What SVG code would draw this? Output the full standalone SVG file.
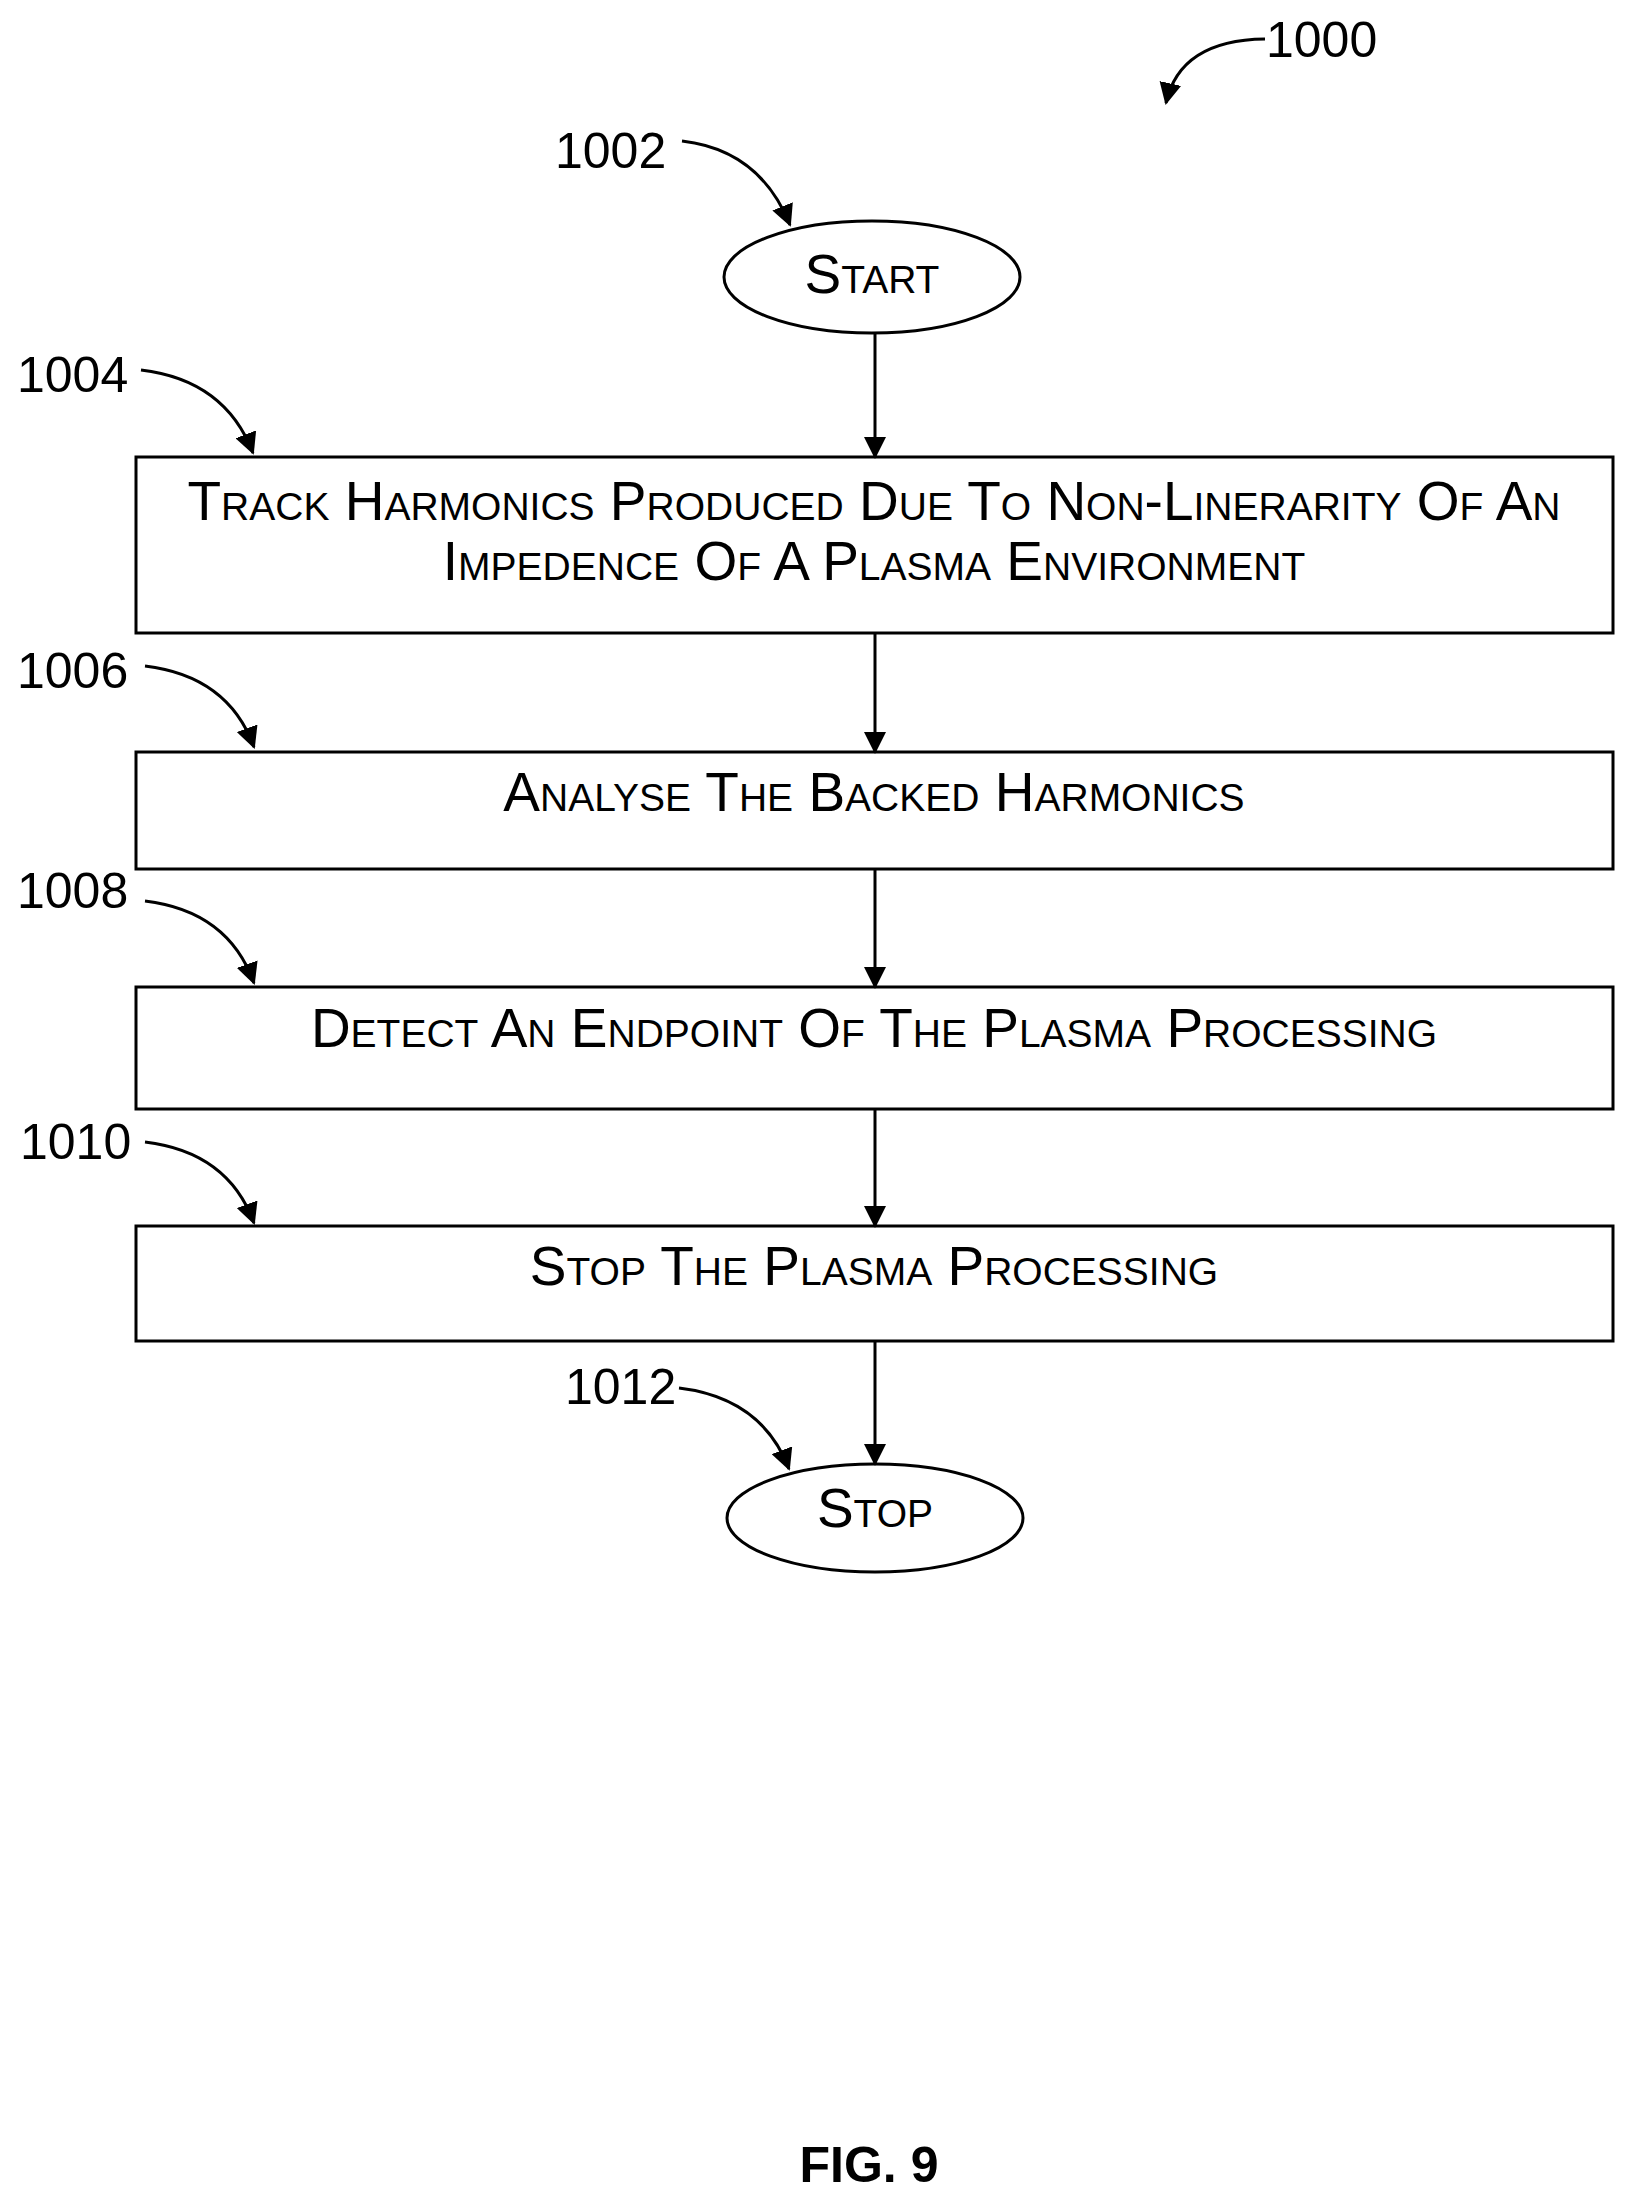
<svg xmlns="http://www.w3.org/2000/svg" width="1635" height="2205" viewBox="0 0 1635 2205">
<style>
.n{fill:#fff;stroke:#000;stroke-width:3}
.t{font-family:"Liberation Sans",Arial,sans-serif;font-size:55px;font-variant:small-caps;text-anchor:middle;fill:#000}
.l{font-family:"Liberation Sans",Arial,sans-serif;font-size:50px;fill:#000}
.c{fill:none;stroke:#000;stroke-width:3}
</style>
<defs><marker id="b" markerWidth="22" markerHeight="22" refX="20" refY="11" orient="auto" markerUnits="userSpaceOnUse" viewBox="0 0 22 22"><path d="M0,0 L22,11 L0,22 z" fill="#000"/></marker></defs>
<rect width="1635" height="2205" fill="#fff"/>
<g id="start"><ellipse class="n" cx="872" cy="277" rx="148" ry="56"/><text class="t" x="872" y="293">Start</text></g>
<g id="n1004"><rect class="n" x="136" y="457" width="1477" height="176"/><text class="t" x="874" y="520">Track Harmonics Produced Due To Non-Linerarity Of An</text><text class="t" x="874" y="580">Impedence Of A Plasma Environment</text></g>
<g id="n1006"><rect class="n" x="136" y="752" width="1477" height="117"/><text class="t" x="874" y="811">Analyse The Backed Harmonics</text></g>
<g id="n1008"><rect class="n" x="136" y="987" width="1477" height="122"/><text class="t" x="874" y="1047">Detect An Endpoint Of The Plasma Processing</text></g>
<g id="n1010"><rect class="n" x="136" y="1226" width="1477" height="115"/><text class="t" x="874" y="1285">Stop The Plasma Processing</text></g>
<g id="stop"><ellipse class="n" cx="875" cy="1518" rx="148" ry="54"/><text class="t" x="875" y="1527">Stop</text></g>
<g id="connectors">
<line class="c" x1="875" y1="333" x2="875" y2="457" marker-end="url(#b)"/>
<line class="c" x1="875" y1="633" x2="875" y2="752" marker-end="url(#b)"/>
<line class="c" x1="875" y1="869" x2="875" y2="987" marker-end="url(#b)"/>
<line class="c" x1="875" y1="1109" x2="875" y2="1226" marker-end="url(#b)"/>
<line class="c" x1="875" y1="1341" x2="875" y2="1464" marker-end="url(#b)"/>
</g>
<g id="labels">
<text class="l" x="1266" y="57">1000</text>
<path class="c" d="M1265,39 Q1180,40 1166,103" marker-end="url(#b)"/>
<text class="l" x="555" y="168">1002</text>
<path class="c" d="M682,141 Q760,150 790,225" marker-end="url(#b)"/>
<text class="l" x="17" y="392">1004</text>
<path class="c" d="M141,370 Q225,380 253,453" marker-end="url(#b)"/>
<text class="l" x="17" y="688">1006</text>
<path class="c" d="M145,666 Q228,676 254,747" marker-end="url(#b)"/>
<text class="l" x="17" y="908">1008</text>
<path class="c" d="M145,901 Q228,911 254,983" marker-end="url(#b)"/>
<text class="l" x="20" y="1159">1010</text>
<path class="c" d="M145,1142 Q228,1152 254,1223" marker-end="url(#b)"/>
<text class="l" x="565" y="1404">1012</text>
<path class="c" d="M679,1388 Q762,1398 789,1469" marker-end="url(#b)"/>
<text class="l" x="869" y="2182" style="font-weight:bold;text-anchor:middle">FIG. 9</text>
</g>
</svg>
